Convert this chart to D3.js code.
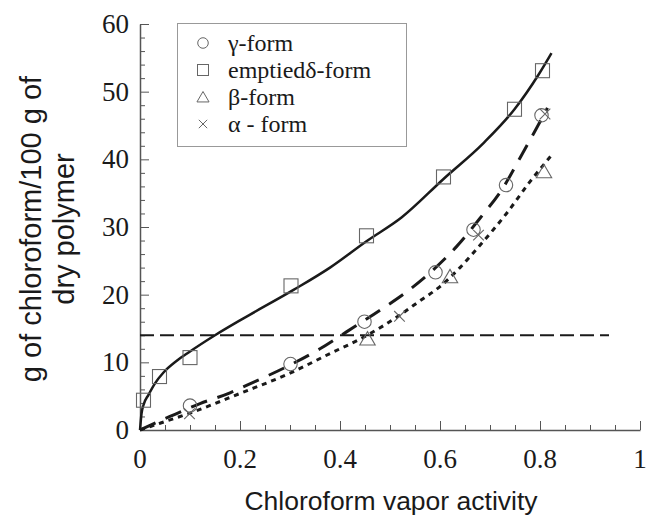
<!DOCTYPE html>
<html>
<head>
<meta charset="utf-8">
<script src="https://cdn.jsdelivr.net/npm/d3@7"></script>
<style>
  body { margin: 0; background: #fff; }
  svg { display: block; }
</style>
</head>
<body>
<svg id="chart" width="646" height="516"></svg>
<script>
// measured points, [activity, g/100g]
const gammaPts = [[0.1, 3.6], [0.301, 9.75], [0.449, 16], [0.591, 23.3], [0.667, 29.6], [0.732, 36.2], [0.803, 46.5]];
const deltaPts = [[0.007, 4.4], [0.039, 7.9], [0.1, 10.7], [0.302, 21.3], [0.453, 28.7], [0.607, 37.4], [0.749, 47.4], [0.805, 53.1]];
const betaPts = [[0.455, 13.5], [0.62, 22.7], [0.808, 38.2]];
const alphaPts = [[0.099, 2.4], [0.519, 16.8], [0.677, 28.8], [0.81, 46.7]];

// fitted curves
const deltaFit = [[0, 0], [0.003, 2.4], [0.007, 3.7], [0.017, 5.2], [0.03, 6.9], [0.047, 8.5], [0.073, 10.2], [0.1, 11.6],
  [0.15, 14], [0.207, 16.5], [0.307, 20.7], [0.38, 24], [0.453, 27.9], [0.523, 31.4], [0.607, 37.1], [0.687, 42.4],
  [0.749, 47.4], [0.797, 52.5], [0.823, 55.7]];
const gammaFit = [[0, 0], [0.06, 2], [0.12, 3.9], [0.18, 5.5], [0.213, 6.6], [0.3, 9.6], [0.36, 12], [0.413, 14.5],
  [0.48, 17.7], [0.533, 20.4], [0.587, 23.7], [0.633, 27.1], [0.68, 31.3], [0.727, 35.9], [0.76, 40.2], [0.793, 44.6], [0.815, 47.6]];
const betaFit = [[0, 0], [0.04, 1], [0.1, 2.5], [0.2, 5.4], [0.3, 8.4], [0.38, 11.3], [0.447, 13.7], [0.52, 17],
  [0.56, 19.1], [0.6, 21.2], [0.64, 24], [0.68, 27.3], [0.733, 32], [0.78, 36.7], [0.823, 40.6]];
const plateau = [[0, 14], [0.938, 14]];

const legendLabels = ["γ-form", "emptiedδ-form", "β-form", "α - form"];
const legendSymbols = ["circle", "square", "triangle", "cross"];
const xTicks = [0, 0.2, 0.4, 0.6, 0.8, 1];
const yTicks = [0, 10, 20, 30, 40, 50, 60];

const svg = d3.select("#chart");
const x = d3.scaleLinear().domain([0, 1]).range([140, 640]);
const y = d3.scaleLinear().domain([0, 60]).range([430, 24]);
const serif = '"Liberation Serif"';
const sans = '"Liberation Sans"';
const axisColor = "#555";

// axes with inward ticks
const gx = svg.append("g").attr("transform", `translate(0,${y(0)})`);
gx.call(d3.axisBottom(x).tickValues(d3.range(0, 1.001, 0.05)).tickSizeInner(-5).tickSizeOuter(0).tickFormat(""));
gx.selectAll(".tick line").filter(d => xTicks.some(t => Math.abs(t - d) < 1e-6)).attr("y2", -9);
gx.select(".domain").attr("stroke", axisColor).attr("stroke-width", 1.5);
gx.selectAll(".tick line").attr("stroke", axisColor);

const gy = svg.append("g").attr("transform", `translate(${x(0)},0)`);
gy.call(d3.axisLeft(y).tickValues(d3.range(0, 61, 2)).tickSizeInner(-5).tickSizeOuter(0).tickFormat(""));
gy.selectAll(".tick line").filter(d => d % 10 === 0).attr("x2", 9);
gy.select(".domain").attr("stroke", axisColor).attr("stroke-width", 1.5);
gy.selectAll(".tick line").attr("stroke", axisColor);

svg.append("g").selectAll("text").data(xTicks).join("text")
  .attr("x", d => x(d)).attr("y", 468)
  .attr("text-anchor", "middle")
  .style("font-family", serif).style("font-size", "27px").attr("fill", "#1a1a1a")
  .text(d => d);

svg.append("g").selectAll("text").data(yTicks).join("text")
  .attr("x", 129).attr("y", d => y(d) + 9)
  .attr("text-anchor", "end")
  .style("font-family", serif).style("font-size", "27px").attr("fill", "#1a1a1a")
  .text(d => d);

// axis titles
svg.append("text")
  .attr("x", 391).attr("y", 510)
  .attr("text-anchor", "middle")
  .style("font-family", sans).style("font-size", "26.5px").attr("fill", "#1a1a1a")
  .text("Chloroform vapor activity");

const yt = svg.append("text")
  .attr("transform", "translate(41,229) rotate(-90)")
  .attr("text-anchor", "middle")
  .style("font-family", sans).style("font-size", "29px").attr("fill", "#1a1a1a");
yt.append("tspan").attr("x", 0).attr("dy", 0).text("g of chloroform/100 g of");
yt.append("tspan").attr("x", 0).attr("dy", 33).text("dry polymer");

// curves
const line = d3.line().x(d => x(d[0])).y(d => y(d[1])).curve(d3.curveMonotoneX);
const curves = [
  {data: plateau, w: 2, dash: "14,6"},
  {data: deltaFit, w: 2.5, dash: null},
  {data: gammaFit, w: 3, dash: "17,11"},
  {data: betaFit, w: 3, dash: "5,5"}
];
svg.append("g").selectAll("path").data(curves).join("path")
  .attr("d", d => line(d.data))
  .attr("fill", "none")
  .attr("stroke", "#1a1a1a")
  .attr("stroke-width", d => d.w)
  .attr("stroke-dasharray", d => d.dash);

// markers
function marker(g, type, s) {
  if (type === "circle") {
    g.append("circle").attr("r", s * 0.48);
  } else if (type === "square") {
    g.append("rect").attr("x", -s / 2).attr("y", -s / 2).attr("width", s).attr("height", s);
  } else if (type === "triangle") {
    g.append("path").attr("d", `M0,${-s * 0.5}L${s * 0.55},${s * 0.45}L${-s * 0.55},${s * 0.45}Z`);
  } else {
    const c = s * 0.38;
    g.append("path").attr("d", `M${-c},${-c}L${c},${c}M${-c},${c}L${c},${-c}`);
  }
}
const groups = [
  {pts: gammaPts, type: "circle"},
  {pts: deltaPts, type: "square"},
  {pts: betaPts, type: "triangle"},
  {pts: alphaPts, type: "cross"}
];
const mg = svg.append("g").attr("fill", "none").attr("stroke", "#666").attr("stroke-width", 1.1);
groups.forEach(gr => {
  gr.pts.forEach(p => {
    const g = mg.append("g").attr("transform", `translate(${x(p[0])},${y(p[1])})`);
    marker(g, gr.type, 14);
  });
});

// legend
const lg = svg.append("g");
lg.append("rect").attr("x", 177.5).attr("y", 23.5).attr("width", 229).attr("height", 123)
  .attr("fill", "#fff").attr("stroke", "#999").attr("stroke-width", 1);
legendLabels.forEach((lab, i) => {
  const cy = 43 + i * 27;
  const g = lg.append("g").attr("transform", `translate(203,${cy})`)
    .attr("fill", "none").attr("stroke", "#666").attr("stroke-width", 1);
  marker(g, legendSymbols[i], 11);
  lg.append("text").attr("x", 228).attr("y", cy + 8)
    .style("font-family", serif).style("font-size", "24px").attr("fill", "#1a1a1a")
    .text(lab);
});
</script>
</body>
</html>
